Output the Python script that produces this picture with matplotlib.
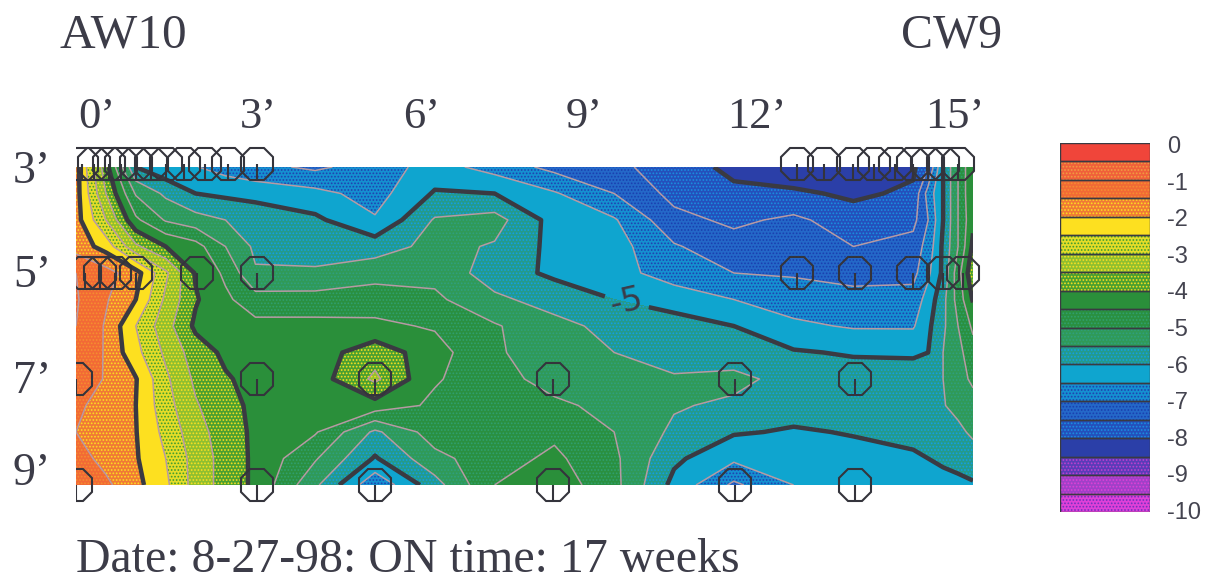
import numpy as np
import matplotlib
matplotlib.use("Agg")
import matplotlib.pyplot as plt
from matplotlib.path import Path
from matplotlib.transforms import Bbox, TransformedBbox

W, H = 1212, 581

# distance along the wall (ft) and depth (ft)
xs = [0, .5, 1, 1.5, 2, 2.5, 3, 4, 5, 6, 7, 8, 9, 10, 11, 12, 13, 14, 14.25, 14.5, 14.75, 15]
ys = [3, 3.5, 4, 4.5, 5, 5.5, 6, 6.5, 7, 7.5, 8, 8.5, 9]

# values per depth row
row_30 = [-1.8, -3.8, -6.0, -6.35, -6.48, -6.7, -6.85, -7.1, -6.75, -6.3, -6.7, -7.15, -7.4, -7.7, -8.15, -8.4, -8.4, -8.1, -7.5, -6.0, -5.0, -4.0]
row_35 = [-1.8, -3.5, -5.05, -5.6, -6.0, -6.1, -6.2, -6.35, -6.7, -5.95, -6.0, -6.45, -7.0, -7.65, -7.87, -7.9, -8.1, -7.9, -6.8, -6.0, -5.0, -4.0]
row_40 = [-1.8, -3.0, -4.4, -5.05, -5.3, -5.5, -5.6, -5.9, -6.45, -5.45, -5.3, -6.2, -6.45, -7.35, -7.6, -7.4, -7.75, -7.65, -7.0, -6.0, -5.0, -4.1]
row_45 = [-1.7, -2.2, -3.4, -4.0, -4.3, -5.0, -5.6, -5.75, -5.73, -5.35, -5.55, -6.15, -6.3, -6.95, -7.3, -7.25, -7.5, -7.3, -6.8, -5.9, -5.0, -3.9]
row_50 = [-1.0, -1.3, -1.8, -2.9, -4.05, -4.6, -5.45, -5.42, -5.2, -5.15, -5.75, -6.1, -6.3, -6.75, -7.0, -7.05, -7.2, -7.15, -6.6, -5.9, -4.7, -3.6]
row_55 = [-0.95, -1.45, -2.0, -3.1, -3.95, -4.4, -4.8, -4.8, -4.72, -4.9, -5.4, -5.7, -6.0, -6.2, -6.5, -6.75, -6.8, -6.8, -6.3, -5.65, -4.8, -3.95]
row_60 = [-1.0, -1.55, -2.5, -3.3, -4.1, -4.25, -4.35, -4.35, -4.4, -4.55, -4.95, -5.35, -5.65, -5.8, -6.0, -6.4, -6.55, -6.55, -6.1, -5.6, -5.0, -4.4]
row_65 = [-1.05, -1.55, -2.35, -3.1, -3.75, -4.1, -4.25, -4.25, -3.7, -4.3, -4.95, -5.2, -5.5, -5.7, -5.8, -5.95, -6.05, -6.1, -6.0, -5.5, -5.15, -4.7]
row_70 = [-1.1, -1.55, -1.97, -2.9, -3.6, -3.95, -4.15, -4.25, -3.4, -4.45, -4.8, -5.2, -5.3, -5.45, -5.35, -5.7, -5.75, -5.65, -5.6, -5.5, -5.2, -4.9]
row_75 = [-1.45, -1.6, -2.0, -2.8, -3.45, -3.85, -4.1, -4.3, -4.2, -4.6, -4.75, -4.9, -5.15, -5.45, -5.6, -5.8, -5.85, -5.75, -5.65, -5.53, -5.35, -5.2]
row_80 = [-1.5, -1.7, -1.98, -2.65, -3.3, -3.75, -4.1, -4.45, -5.6, -4.75, -4.75, -4.6, -5.0, -5.6, -5.95, -6.05, -5.97, -5.8, -5.75, -5.7, -5.62, -5.4]
row_85 = [-1.3, -1.65, -1.95, -2.5, -3.2, -3.7, -4.1, -4.95, -6.05, -5.15, -4.7, -4.4, -4.9, -5.9, -6.4, -6.25, -6.15, -6.1, -6.0, -5.9, -5.8, -5.75]
row_90 = [-1.05, -1.4, -1.85, -2.4, -3.2, -3.7, -4.1, -5.4, -6.9, -5.7, -4.5, -4.2, -4.85, -6.15, -7.1, -6.5, -6.4, -6.3, -6.25, -6.2, -6.15, -6.05]

# sensor positions
sensor_x = [.1, .3, .55, .75, 1, 1.25, 1.5, 1.8, 2.15, 2.55, 3.03,
            12.05, 12.5, 13, 13.35, 13.7, 14, 14.25, 14.5, 14.75,
            .15, .4, .65, 1, 2.03, 3.03, 12.05, 13.03, 14, 14.5, 14.83,
            0, 3.03, 5, 7.98, 11.02, 13.03,
            0, 3.03, 5, 7.98, 11.02, 13.03]
sensor_y = [2.95] * 20 + [5] * 11 + [7] * 6 + [9] * 6

x_labels = ["0’", "3’", "6’", "9’", "12’", "15’"]
y_labels = ["3’", "5’", "7’", "9’"]
legend_ticks = [0, -1, -2, -3, -4, -5, -6, -7, -8, -9, -10]

levels = np.arange(-10, 0.5, 0.5)
# base colour, dot colour for every band from -10 up to 0
band_base = ["#e040d8", "#a040c8", "#5a3cb8", "#2b3fa8", "#2450bc", "#2468c8", "#1590d0", "#0fa5cf",
             "#249a8c", "#309a58", "#2a9040", "#2a8f3a", "#4a9f30", "#8fbf30", "#e4dc28", "#fde020",
             "#f07a35", "#f26a35", "#f0603a", "#f0453a"]
band_dots = ["#7030c0", "#e040d8", "#c040d0", None, "#1a90e0", "#1a3fb0", "#2040b0", None,
             "#10a0e8", "#2fa080", "#30a070", None, "#fde020", "#fde020", "#3a9a30", None,
             "#fde020", "#f59030", "#f0a040", None]

serif = "Liberation Serif"
ink = "#3c3c48"


def put(x, y, s, size=30, **kw):
    return fig.text(x / W, 1 - y / H, s, family=serif, fontsize=size, color=ink, va="center", **kw)


fig = plt.figure(figsize=(W / 100, H / 100), dpi=100)
ax = fig.add_axes([76 / W, 1 - 485 / H, (973 - 76) / W, (485 - 167) / H])

z = np.array([row_30, row_35, row_40, row_45, row_50, row_55, row_60,
              row_65, row_70, row_75, row_80, row_85, row_90])

plt.rcParams["hatch.linewidth"] = 0.8
for i in range(len(band_base)):
    lo, hi = levels[i], levels[i + 1]
    ax.contourf(xs, ys, z, levels=[lo, hi], colors=[band_base[i]])
    if band_dots[i]:
        cs = ax.contourf(xs, ys, z, levels=[lo, hi], colors="none", hatches=["....."])
        cs.set_edgecolor(band_dots[i])
        cs.set_linewidth(0)

# thin lines on the half steps, heavy ones every 2
thin = [l for l in levels if l % 2 != 0]
ax.contour(xs, ys, z, levels=thin, colors="#b79aa4", linewidths=1.1, linestyles="solid")
ax.contour(xs, ys, z, levels=[-8, -4, -2], colors="#3a3a42", linewidths=3.2, linestyles="solid")
heavy = ax.contour(xs, ys, z, levels=[-6], colors="#3a3a42", linewidths=3.2, linestyles="solid")
ax.clabel(heavy, manual=[(9.2, 5.6)], fmt={-6: "-5"}, fontsize=24, colors=ink, inline_spacing=6)

ax.set_xlim(0, 15)
ax.set_ylim(9, 3)
ax.axis("off")

# octagon with a stem down to its edge, cut off at the left edge of the plot
stem = Path([(0, 0), (0, -1)], [Path.MOVETO, Path.LINETO])
clip = TransformedBbox(Bbox([[0, -0.3], [1.2, 1.3]]), ax.transAxes)
for mk in ["8", stem]:
    line, = ax.plot(sensor_x, sensor_y, ls="none", marker=mk, ms=25, mfc="none", mec="#34343c", mew=1.5)
    line.set_clip_box(clip)

# colour key
key = fig.add_axes([1060 / W, 1 - 512 / H, 90 / W, (512 - 143) / H])
mids = levels[:-1] + 0.25
for m, base, dots in zip(mids, band_base, band_dots):
    key.barh(m, 1, height=0.5, color=base, edgecolor=dots or base, hatch="....." if dots else None, linewidth=0)
key.barh(mids, [1] * len(mids), height=0.5, fill=False, edgecolor="#3a3a42", linewidth=1)
key.set_xlim(0, 1)
key.set_ylim(-10, 0)
key.axis("off")
for t, py in zip(legend_ticks, np.linspace(147, 513, len(legend_ticks))):
    fig.text(1167 / W, 1 - py / H, str(t), family="Liberation Sans", fontsize=17, color="#444450", va="center")

put(59, 36, "AW10", size=35.5)
put(901, 36, "CW9", size=34.5)
for s, px in zip(x_labels, [78, 240, 403, 566, 727, 925]):
    put(px, 117, s, size=32)
for s, py in zip(y_labels, [172, 276, 382, 474]):
    put(13, py, s, size=33)
put(76, 560, "Date: 8-27-98: ON time: 17 weeks", size=34.5)

fig.savefig("out.png", dpi=100)
